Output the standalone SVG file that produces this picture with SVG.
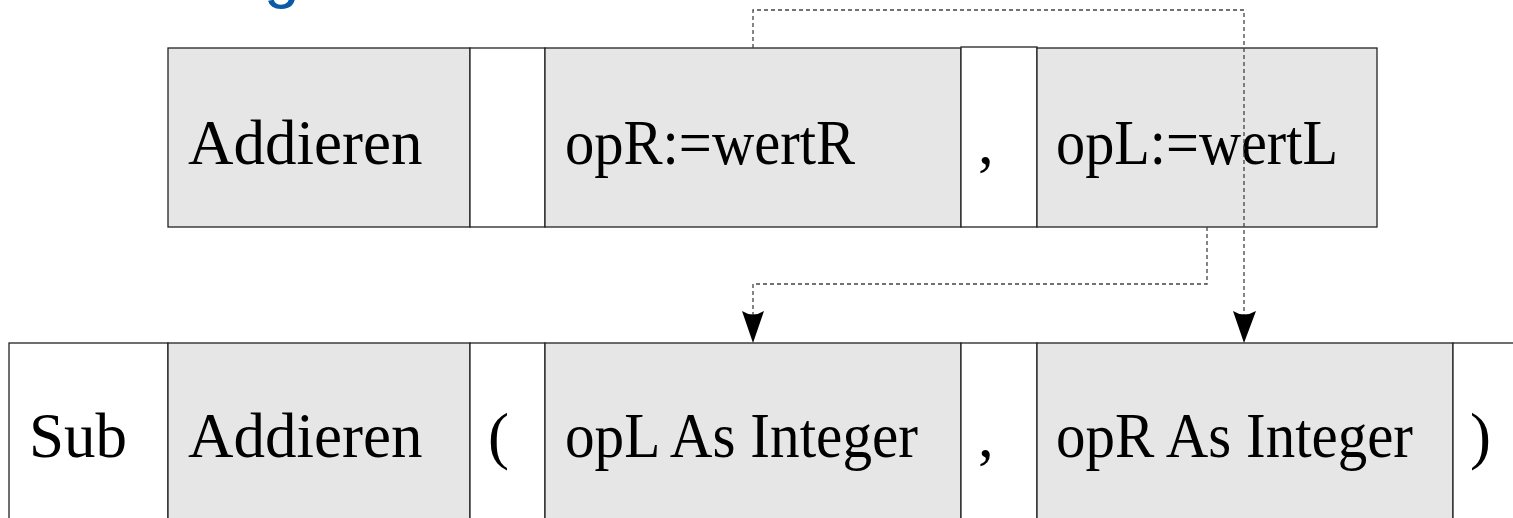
<svg xmlns="http://www.w3.org/2000/svg" width="1513" height="518" viewBox="0 0 1513 518">
<style>
.g{fill:#e6e6e6;stroke:#222;stroke-width:1.3}
.w{fill:#fff;stroke:#222;stroke-width:1.3}
.t{font-family:"Liberation Serif","Times New Roman",serif;font-size:63px;fill:#000}
.d{fill:none;stroke:#444;stroke-width:1.3;stroke-dasharray:4 3}
.a{fill:#000}
</style>
<rect width="1513" height="518" fill="#fff"/>
<text x="264" y="-4" style="font-family:'Liberation Sans',Arial,sans-serif;font-size:64px;fill:#0b5aa5">g</text>
<g id="top-addieren"><rect class="g" x="168" y="48" width="302" height="179"/><text class="t" x="188" y="164">Addieren</text></g>
<g id="top-open"><rect class="w" x="470" y="48" width="75" height="179"/></g>
<g id="top-opR"><rect class="g" x="545" y="48" width="416" height="179"/><text class="t" x="565" y="164" textLength="290" lengthAdjust="spacingAndGlyphs">opR:=wertR</text></g>
<g id="top-comma"><rect class="w" x="961" y="47" width="76" height="180"/><text class="t" x="978" y="164">,</text></g>
<g id="top-opL"><rect class="g" x="1037" y="48" width="340" height="179"/><text class="t" x="1056" y="164" textLength="282" lengthAdjust="spacingAndGlyphs">opL:=wertL</text></g>
<g id="bot-sub"><rect class="w" x="9" y="343" width="159" height="185"/><text class="t" x="29" y="457">Sub</text></g>
<g id="bot-addieren"><rect class="g" x="168" y="343" width="302" height="185"/><text class="t" x="188" y="457">Addieren</text></g>
<g id="bot-open"><rect class="w" x="470" y="343" width="75" height="185"/><text class="t" x="488" y="457">(</text></g>
<g id="bot-opL"><rect class="g" x="545" y="343" width="416" height="185"/><text class="t" x="565" y="457" textLength="353" lengthAdjust="spacingAndGlyphs">opL As Integer</text></g>
<g id="bot-comma"><rect class="w" x="961" y="343" width="76" height="185"/><text class="t" x="978" y="457">,</text></g>
<g id="bot-opR"><rect class="g" x="1037" y="343" width="416" height="185"/><text class="t" x="1056" y="457" textLength="357" lengthAdjust="spacingAndGlyphs">opR As Integer</text></g>
<g id="bot-close"><rect class="w" x="1453" y="343" width="80" height="185"/><text class="t" x="1470" y="457">)</text></g>
<g id="connectors">
<path class="d" d="M753,48 V10 H1244 V318"/>
<path class="a" d="M1244,343 L1233,311 Q1244,318 1256,311 Z"/>
<path class="d" d="M1207,227 V284 H753 V318"/>
<path class="a" d="M753,343 L742,311 Q753,318 764,311 Z"/>
</g>
</svg>
